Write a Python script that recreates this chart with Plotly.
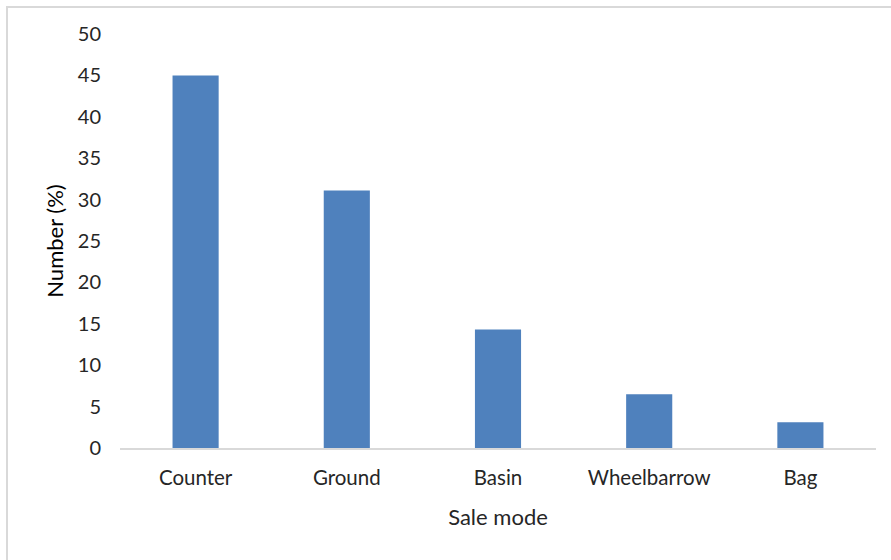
import plotly.graph_objects as go

categories = ["Counter", "Ground", "Basin", "Wheelbarrow", "Bag"]
values = [45.0, 31.1, 14.3, 6.5, 3.1]
y_ticks = [0, 5, 10, 15, 20, 25, 30, 35, 40, 45, 50]

W, H = 891, 560
L, R, T, B = 120, 15, 34, 112
pw, ph = W - L - R, H - T - B

def px_x(px):
    return (px - L) / pw

def px_y(py):
    return (H - B - py) / ph

fig = go.Figure(go.Bar(
    x=categories, y=values,
    marker=dict(color="#4F81BD", line=dict(width=0)),
))

fig.update_layout(
    width=W, height=H,
    margin=dict(l=L, r=R, t=T, b=B),
    paper_bgcolor="white", plot_bgcolor="white",
    bargap=0.695,
    showlegend=False,
    font=dict(family="Lato, 'Open Sans', sans-serif", size=20, color="#262626"),
    xaxis=dict(
        showline=True, linecolor="#D9D9D9", linewidth=1.5,
        ticks="", showgrid=False,
        tickfont=dict(size=20.5, color="#262626"),
        ticklabelstandoff=11,
        title=dict(text="Sale mode", font=dict(size=22, color="#262626"), standoff=21),
    ),
    yaxis=dict(
        range=[0, 50], tickvals=y_ticks,
        showline=False, showgrid=False, zeroline=False, ticks="",
        tickfont=dict(size=20, color="#262626"),
        ticklabelstandoff=18,
        title=dict(text="Number (%)", font=dict(size=22, color="#000000"), standoff=8),
    ),
    shapes=[dict(
        type="rect", xref="paper", yref="paper",
        x0=px_x(7), x1=px_x(905), y0=px_y(575), y1=px_y(7),
        line=dict(color="#D9D9D9", width=2), fillcolor="rgba(0,0,0,0)",
        layer="below",
    )],
)

fig.write_html("out.html")
